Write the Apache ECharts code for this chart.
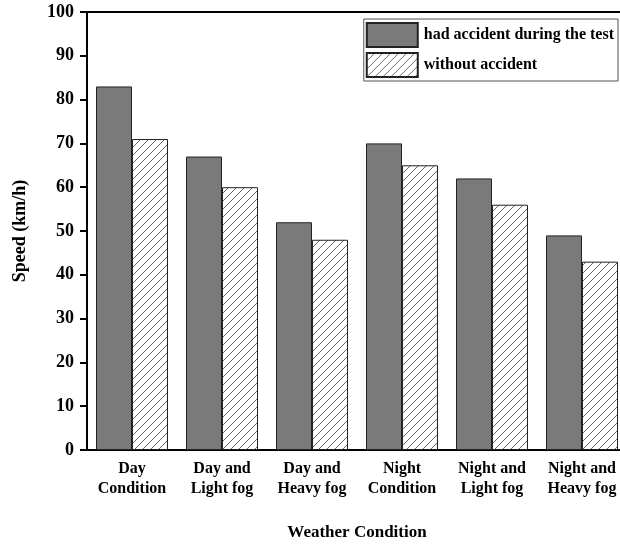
<!DOCTYPE html>
<html>
<head>
<meta charset="utf-8">
<script src="https://cdn.jsdelivr.net/npm/echarts@6/dist/echarts.min.js"></script>
<style>html,body{margin:0;padding:0;background:#fff}#c{width:620px;height:544px}</style>
</head>
<body>
<div id="c"></div>
<script>
const categories = ['Day\nCondition', 'Day and\nLight fog', 'Day and\nHeavy fog', 'Night\nCondition', 'Night and\nLight fog', 'Night and\nHeavy fog'];
const accidentValues = [83, 67, 52, 70, 62, 49];
const noAccidentValues = [71, 60, 48, 65, 56, 43];
const seriesNames = ['had accident during the test', 'without accident'];
const yTicks = [0, 10, 20, 30, 40, 50, 60, 70, 80, 90, 100];

function hatch() {
  const s = 8;
  const c = document.createElement('canvas');
  c.width = s; c.height = s;
  const g = c.getContext('2d');
  g.fillStyle = '#fff';
  g.fillRect(0, 0, s, s);
  g.strokeStyle = '#555';
  g.lineWidth = 0.9;
  g.beginPath();
  g.moveTo(-1, s + 1); g.lineTo(s + 1, -1);
  g.moveTo(-1, 1); g.lineTo(1, -1);
  g.moveTo(s - 1, s + 1); g.lineTo(s + 1, s - 1);
  g.stroke();
  return c;
}
const FONT = '"Liberation Serif", "Times New Roman", serif';
const chart = echarts.init(document.getElementById('c'), null, {renderer: 'canvas'});
chart.setOption({
  animation: false,
  backgroundColor: '#fff',
  textStyle: {fontFamily: FONT},
  grid: {left: 87, top: 12, width: 540, height: 438, outerBoundsMode: 'none', containLabel: false},
  legend: {
    right: 2, top: 19,
    orient: 'vertical',
    icon: 'rect',
    itemWidth: 51, itemHeight: 24, itemGap: 4,
    padding: [3, 4, 3, 2],
    borderColor: '#555', borderWidth: 1,
    textStyle: {fontFamily: FONT, fontWeight: 'bold', fontSize: 16, color: '#000', padding: [0, 0, 0, 1]},
    data: seriesNames
  },
  xAxis: [{
    type: 'category',
    data: categories,
    axisLine: {lineStyle: {color: '#000', width: 2}},
    axisTick: {show: false},
    axisLabel: {interval: 0, color: '#000', fontFamily: FONT, fontWeight: 'bold', fontSize: 16, lineHeight: 20, margin: 9},
    name: 'Weather Condition',
    nameLocation: 'middle',
    nameGap: 74,
    nameTextStyle: {color: '#000', fontFamily: FONT, fontWeight: 'bold', fontSize: 17}
  }, {
    type: 'category',
    position: 'top',
    data: categories,
    axisLine: {show: true, lineStyle: {color: '#000', width: 2}},
    axisTick: {show: false},
    axisLabel: {show: false}
  }],
  yAxis: {
    type: 'value',
    min: yTicks[0], max: yTicks[yTicks.length - 1], interval: 10,
    axisLine: {show: true, lineStyle: {color: '#000', width: 2}},
    axisTick: {show: true, length: 7, lineStyle: {color: '#000', width: 2}},
    splitLine: {show: false},
    axisLabel: {color: '#000', fontFamily: FONT, fontWeight: 'bold', fontSize: 18, margin: 13},
    name: 'Speed (km/h)',
    nameLocation: 'middle',
    nameGap: 58,
    nameTextStyle: {color: '#000', fontFamily: FONT, fontWeight: 'bold', fontSize: 18}
  },
  series: [{
    name: seriesNames[0],
    type: 'bar',
    data: accidentValues,
    barWidth: 36,
    barGap: '0%',
    itemStyle: {color: '#7a7a7a', borderColor: '#222', borderWidth: 1}
  }, {
    name: seriesNames[1],
    type: 'bar',
    data: noAccidentValues,
    barWidth: 36,
    barGap: '0%',
    itemStyle: {color: {image: hatch(), repeat: 'repeat'}, borderColor: '#222', borderWidth: 1}
  }]
});
</script>
</body>
</html>
